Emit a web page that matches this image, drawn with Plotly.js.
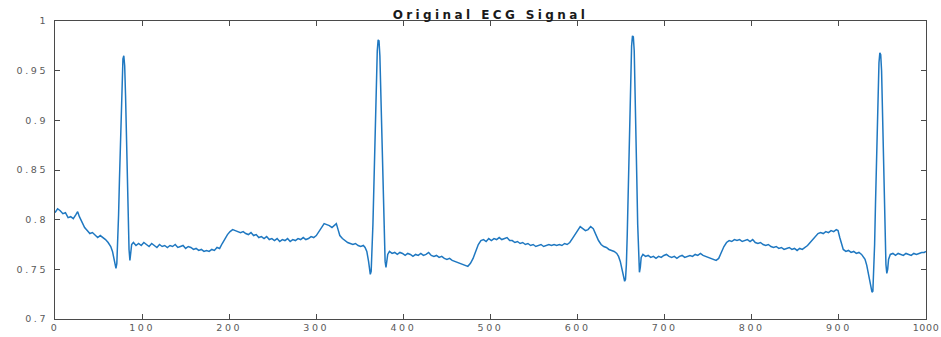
<!DOCTYPE html>
<html>
<head>
<meta charset="utf-8">
<script src="https://cdn.plot.ly/plotly-3.0.1.min.js"></script>
<style>
html,body{margin:0;padding:0;background:#fff;}
#chart{width:941px;height:337px;}
.xtick text,.ytick text{letter-spacing:2.6px;}
.xtick:last-of-type text{letter-spacing:0.6px;}
.gtitle{letter-spacing:3.4px;}
</style>
</head>
<body>
<div id="chart"></div>
<script>
const chartTitle = "Original ECG Signal";
const xTickVals = [0,100,200,300,400,500,600,700,800,900,1000];
const yTickVals = [0.7,0.75,0.8,0.85,0.9,0.95,1];
const yTickText = ["0.7","0.75","0.8","0.85","0.9","0.95","1"];

const sampleIdx = [
0,3,6,9,12,15,18,21,24,26,28,31,34,37,40,43,46,49,52,55,58,61,64,66,68,70,71,72,73,74,75,76,77,78,79,80,81,82,83,84,85,86,87,88,90,93,96,99,
102,105,108,111,114,117,120,123,126,129,132,135,138,141,144,147,150,153,156,159,162,165,168,171,174,177,180,183,186,189,192,195,198,
201,204,207,210,213,216,219,222,225,228,231,234,237,240,243,246,249,252,255,258,261,264,267,270,273,276,279,282,285,288,291,294,297,
300,303,306,309,312,315,318,321,323,325,327,330,333,336,339,342,345,348,351,354,356,358,360,362,363,364,365,366,367,368,369,370,371,372,373,374,375,376,377,378,379,380,381,382,384,387,390,393,396,399,
402,405,408,411,414,417,420,423,426,429,432,435,438,441,444,447,450,453,456,459,462,465,468,471,474,477,480,483,486,489,492,495,498,
501,504,507,510,513,516,519,522,525,528,531,534,537,540,543,546,549,552,555,558,561,564,567,570,573,576,579,582,585,588,591,594,597,
600,603,606,609,612,615,618,621,624,627,630,633,636,639,642,645,647,649,651,653,654,655,656,657,658,659,660,661,662,663,664,665,666,667,668,669,670,671,672,673,675,678,681,684,687,690,693,696,699,
702,705,708,711,714,717,720,723,726,729,732,735,738,741,744,747,750,753,756,759,762,765,768,771,774,777,780,783,786,789,792,795,798,
801,804,807,810,813,816,819,822,825,828,831,834,837,840,843,846,849,852,855,858,861,864,867,870,873,876,879,882,885,888,891,894,897,899,
901,903,905,908,911,914,917,920,923,926,928,930,932,934,936,938,939,940,941,942,943,944,945,946,947,948,949,950,951,952,953,954,955,956,957,959,962,965,968,971,974,977,980,983,986,989,992,995,998,1000
];

const ecgValues = [
0.807,0.811,0.809,0.806,0.807,0.802,0.803,0.801,0.805,0.808,0.803,0.797,0.792,0.789,0.786,0.787,0.784,0.782,0.784,0.782,0.780,0.777,0.773,0.768,0.760,0.751,0.756,0.775,0.805,0.840,0.875,0.910,0.942,0.962,0.965,0.955,0.925,0.885,0.840,0.800,0.770,0.759,0.768,0.775,0.777,0.774,0.776,0.774,
0.777,0.775,0.773,0.776,0.774,0.772,0.775,0.773,0.774,0.772,0.774,0.773,0.775,0.772,0.773,0.774,0.771,0.773,0.772,0.770,0.771,0.769,0.770,0.768,0.769,0.768,0.770,0.769,0.772,0.771,0.776,0.781,0.785,
0.788,0.790,0.789,0.788,0.787,0.788,0.786,0.785,0.787,0.784,0.785,0.782,0.783,0.781,0.783,0.780,0.781,0.779,0.781,0.778,0.780,0.779,0.781,0.778,0.780,0.779,0.781,0.780,0.782,0.780,0.781,0.783,0.782,
0.784,0.788,0.792,0.796,0.795,0.794,0.792,0.794,0.796,0.790,0.784,0.781,0.779,0.777,0.776,0.775,0.776,0.774,0.773,0.774,0.772,0.768,0.758,0.745,0.748,0.765,0.795,0.830,0.870,0.910,0.945,0.970,0.981,0.980,0.965,0.930,0.890,0.845,0.805,0.775,0.758,0.752,0.757,0.765,0.768,0.766,0.767,0.765,0.767,0.766,
0.764,0.766,0.765,0.763,0.765,0.764,0.766,0.764,0.765,0.767,0.764,0.763,0.764,0.762,0.763,0.761,0.760,0.761,0.759,0.758,0.757,0.756,0.755,0.754,0.753,0.756,0.761,0.768,0.775,0.779,0.780,0.778,0.781,
0.779,0.781,0.780,0.782,0.780,0.781,0.782,0.779,0.779,0.777,0.778,0.776,0.777,0.775,0.776,0.774,0.775,0.773,0.774,0.775,0.773,0.774,0.775,0.774,0.775,0.774,0.775,0.774,0.776,0.775,0.777,0.781,0.785,
0.789,0.793,0.791,0.789,0.790,0.793,0.791,0.785,0.779,0.775,0.773,0.772,0.770,0.769,0.768,0.766,0.763,0.758,0.750,0.742,0.738,0.740,0.755,0.785,0.825,0.870,0.915,0.950,0.975,0.985,0.984,0.970,0.935,0.890,0.840,0.795,0.760,0.747,0.752,0.762,0.765,0.763,0.764,0.762,0.763,0.761,0.763,0.762,0.764,
0.765,0.763,0.762,0.763,0.761,0.763,0.764,0.762,0.763,0.764,0.763,0.765,0.764,0.766,0.764,0.763,0.762,0.761,0.760,0.759,0.761,0.767,0.773,0.777,0.779,0.778,0.780,0.779,0.780,0.778,0.779,0.780,0.778,
0.780,0.777,0.776,0.777,0.775,0.774,0.775,0.773,0.772,0.773,0.771,0.772,0.770,0.771,0.772,0.770,0.771,0.769,0.771,0.770,0.772,0.774,0.777,0.780,0.783,0.786,0.787,0.786,0.788,0.787,0.789,0.788,0.790,0.789,
0.782,0.775,0.770,0.768,0.769,0.767,0.768,0.766,0.767,0.765,0.763,0.760,0.754,0.746,0.737,0.727,0.728,0.745,0.775,0.815,0.860,0.900,0.935,0.958,0.968,0.966,0.950,0.915,0.870,0.825,0.785,0.755,0.746,0.750,0.760,0.765,0.766,0.764,0.766,0.765,0.764,0.766,0.765,0.764,0.766,0.765,0.766,0.767,0.767,0.768
];

const trace = {
  x: sampleIdx,
  y: ecgValues,
  type: 'scatter',
  mode: 'lines',
  line: {color: '#1f78c1', width: 1.5},
  hoverinfo: 'skip'
};

const axisCommon = {
  showline: true,
  mirror: 'ticks',
  linecolor: '#4a4a4a',
  linewidth: 1,
  ticks: 'inside',
  ticklen: 5,
  tickwidth: 1,
  tickcolor: '#4a4a4a',
  showgrid: false,
  zeroline: false,
  ticklabeloverflow: 'allow',
  tickfont: {family: 'DejaVu Sans, Arial, sans-serif', size: 9.5, color: '#5a5a5a'}
};

const layout = {
  width: 941,
  height: 337,
  margin: {l: 55, r: 15, t: 21, b: 18},
  paper_bgcolor: '#ffffff',
  plot_bgcolor: '#ffffff',
  showlegend: false,
  title: {
    text: '<b>' + chartTitle + '</b>',
    font: {family: 'DejaVu Sans, Arial, sans-serif', size: 12, color: '#1a1a1a'},
    x: 0.5,
    xanchor: 'center',
    xref: 'paper',
    y: 1 - 15/337,
    yref: 'container',
    yanchor: 'middle'
  },
  xaxis: Object.assign({}, axisCommon, {
    range: [0, 1000],
    tickvals: xTickVals,
    ticktext: xTickVals.map(String),
    ticklabelstandoff: 0
  }),
  yaxis: Object.assign({}, axisCommon, {
    range: [0.7, 1],
    tickvals: yTickVals,
    ticktext: yTickText,
    ticklabelstandoff: 4
  })
};

Plotly.newPlot('chart', [trace], layout, {displayModeBar: false, staticPlot: true});
</script>
</body>
</html>
